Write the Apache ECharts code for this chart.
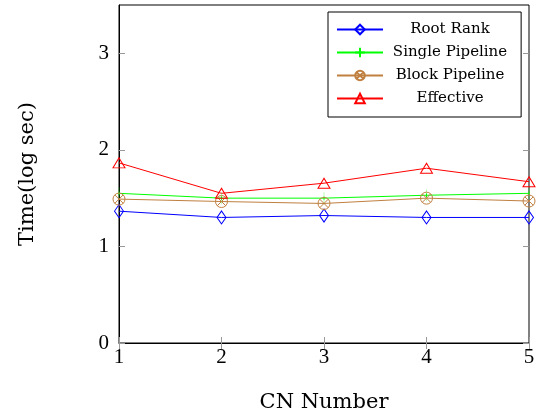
<!DOCTYPE html>
<html>
<head>
<meta charset="utf-8">
<script src="https://cdn.jsdelivr.net/npm/echarts@6/dist/echarts.min.js"></script>
<style>
  html, body { margin: 0; padding: 0; background: #fff; }
  #chart { width: 536px; height: 414px; }
</style>
</head>
<body>
<div id="chart"></div>
<script>
// data
const cnNumbers = [1, 2, 3, 4, 5];
const rootRank = [1.365, 1.30, 1.32, 1.30, 1.30];
const singlePipeline = [1.55, 1.50, 1.50, 1.53, 1.55];
const blockPipeline = [1.49, 1.465, 1.445, 1.50, 1.47];
const effective = [1.865, 1.55, 1.655, 1.81, 1.67];
const yTicks = [0, 1, 2, 3];
const xTicks = [1, 2, 3, 4, 5];

const font = '"Liberation Serif", serif';
const wideFont = '"DejaVu Serif", serif';
const otimes = 'path://M10,0A10,10,0,1,1,10,20A10,10,0,1,1,10,0ZM2.93,2.93L17.07,17.07M17.07,2.93L2.93,17.07';
const bar = 'path://M5,0L5,10M0,5L10,5';

function pairs(vals) {
  return cnNumbers.map((x, i) => [x, vals[i]]);
}

function mkSeries(name, vals, color, symbol, size) {
  return {
    name: name,
    type: 'line',
    data: pairs(vals),
    symbol: symbol,
    symbolSize: size,
    lineStyle: { color: color, width: 1 },
    itemStyle: { color: 'transparent', borderColor: color, borderWidth: 1 },
    emphasis: { disabled: true },
    z: 3
  };
}

const tick = { show: true, inside: true, length: 6, lineStyle: { color: '#999' } };

const chart = echarts.init(document.getElementById('chart'));
chart.setOption({
  animation: false,
  backgroundColor: '#fff',
  grid: {
    left: 119, right: 7, top: 5, bottom: 71,
    outerBoundsMode: 'none',
    show: true, borderColor: '#000', borderWidth: 1
  },
  legend: {
    left: 328, top: 12,
    orient: 'vertical',
    backgroundColor: '#fff',
    borderColor: '#000', borderWidth: 1,
    padding: [10, 14, 11, 8],
    itemGap: 8,
    itemWidth: 46, itemHeight: 12,
    formatter: '{a|{name}}',
    textStyle: {
      fontFamily: wideFont, fontSize: 15, color: '#000',
      rich: { a: { width: 124, height: 15, align: 'center', fontFamily: wideFont, fontSize: 15 } }
    },
    data: ['Root Rank', 'Single Pipeline', 'Block Pipeline', 'Effective']
  },
  xAxis: [{
    type: 'value', min: 1, max: 5, interval: 1,
    name: 'CN Number', nameLocation: 'middle', nameGap: 49,
    nameTextStyle: { fontFamily: wideFont, fontSize: 21, color: '#000' },
    axisLine: { show: true, lineStyle: { color: '#000' } },
    axisTick: Object.assign({ customValues: xTicks }, tick),
    axisLabel: { customValues: xTicks, fontFamily: font, fontSize: 21, color: '#000', margin: 4 },
    splitLine: { show: false }
  }, {
    type: 'value', min: 1, max: 5, interval: 1, position: 'top',
    axisLine: { show: false },
    axisTick: Object.assign({ customValues: xTicks }, tick),
    axisLabel: { show: false },
    splitLine: { show: false }
  }],
  yAxis: [{
    type: 'value', min: 0, max: 3.5, interval: 1,
    name: 'Time(log sec)', nameLocation: 'middle', nameGap: 81,
    nameTextStyle: { fontFamily: wideFont, fontSize: 21, color: '#000' },
    axisLine: { show: true, lineStyle: { color: '#000' } },
    axisTick: Object.assign({ customValues: yTicks }, tick),
    axisLabel: { customValues: yTicks, fontFamily: font, fontSize: 21, color: '#000', margin: 10 },
    splitLine: { show: false }
  }, {
    type: 'value', min: 0, max: 3.5, interval: 1, position: 'right',
    axisLine: { show: false },
    axisTick: Object.assign({ customValues: yTicks }, tick),
    axisLabel: { show: false },
    splitLine: { show: false }
  }],
  series: [
    mkSeries('Root Rank', rootRank, '#0000ff', 'diamond', [9, 13]),
    mkSeries('Single Pipeline', singlePipeline, '#00ff00', bar, [1, 12]),
    mkSeries('Block Pipeline', blockPipeline, '#bf8040', otimes, 12),
    mkSeries('Effective', effective, '#ff0000', 'triangle', [12, 10])
  ]
});
</script>
</body>
</html>
